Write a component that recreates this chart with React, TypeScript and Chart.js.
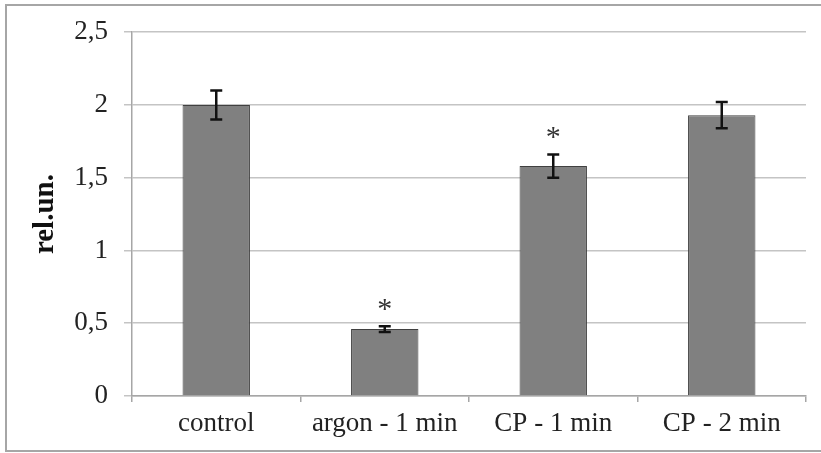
import React, { useEffect, useRef } from "react";
import { Chart, registerables } from "chart.js";

Chart.register(...registerables);

const categories = ["control", "argon - 1 min", "CP - 1 min", "CP - 2 min"];
const values = [2.0, 0.46, 1.58, 1.93];
const errors = [0.1, 0.02, 0.08, 0.09];
const significant = [false, true, true, false];
const yMin = 0;
const yMax = 2.5;
const yStep = 0.5;
const yTitle = "rel.un.";

const FONT = "'Liberation Serif', 'Times New Roman', serif";

const errorBarPlugin = {
  id: "errorBars",
  afterDatasetsDraw(chart: any) {
    const ctx = chart.ctx;
    const meta = chart.getDatasetMeta(0);
    const y = chart.scales.y;
    ctx.save();
    meta.data.forEach((bar: any, i: number) => {
      const x = bar.x;
      const top = y.getPixelForValue(values[i] + errors[i]);
      const bot = y.getPixelForValue(values[i] - errors[i]);
      ctx.strokeStyle = "#111";
      ctx.lineWidth = 2.5;
      ctx.beginPath();
      ctx.moveTo(x, top);
      ctx.lineTo(x, bot);
      ctx.moveTo(x - 6, top);
      ctx.lineTo(x + 6, top);
      ctx.moveTo(x - 6, bot);
      ctx.lineTo(x + 6, bot);
      ctx.stroke();
      if (significant[i]) {
        ctx.fillStyle = "#333";
        ctx.font = `30px ${FONT}`;
        ctx.textAlign = "center";
        ctx.textBaseline = "alphabetic";
        ctx.fillText("*", x, top - 8);
      }
    });
    ctx.restore();
  },
};

export default function App() {
  const ref = useRef<HTMLCanvasElement | null>(null);
  useEffect(() => {
    if (!ref.current) return;
    const chart = new Chart(ref.current, {
      type: "bar",
      data: {
        labels: categories,
        datasets: [
          {
            data: values,
            backgroundColor: "#808080",
            borderColor: "#404040",
            borderWidth: 1,
            categoryPercentage: 1,
            barPercentage: 0.4,
          },
        ],
      },
      options: {
        responsive: false,
        animation: false,
        layout: { padding: { left: 0, top: 31, right: 15, bottom: 0 } },
        plugins: { legend: { display: false }, tooltip: { enabled: false } },
        scales: {
          x: {
            offset: true,
            grid: {
              display: true,
              offset: true,
              drawOnChartArea: false,
              drawTicks: true,
              tickLength: 6,
              color: "#a6a6a6",
              lineWidth: 1.5,
            },
            border: { display: true, color: "#a6a6a6", width: 1.5 },
            ticks: {
              color: "#222",
              font: { family: FONT, size: 27 },
              padding: 6,
              maxRotation: 0,
            },
            afterFit: (s: any) => {
              s.height = 57;
            },
          },
          y: {
            min: yMin,
            max: yMax,
            grid: {
              color: "#c4c4c4",
              lineWidth: 1.5,
              drawTicks: true,
              tickLength: 8,
            },
            border: { display: true, color: "#a6a6a6", width: 1.5 },
            ticks: {
              stepSize: yStep,
              color: "#222",
              font: { family: FONT, size: 27 },
              padding: 16,
              callback: (v: any) => String(v).replace(".", ","),
            },
            title: {
              display: true,
              text: yTitle,
              color: "#111",
              font: { family: FONT, size: 29, weight: "bold" },
              padding: { top: 28, bottom: 0 },
            },
            afterFit: (s: any) => {
              s.width = 132;
            },
          },
        },
      },
      plugins: [errorBarPlugin],
    });
    return () => chart.destroy();
  }, []);

  return (
    <div style={{ position: "fixed", inset: 0, overflow: "hidden", background: "#fff" }}>
      <div
        style={{
          position: "absolute",
          left: 5,
          top: 4,
          width: 840,
          height: 448,
          border: "2px solid #a6a6a6",
          boxSizing: "border-box",
        }}
      />
      <canvas
        ref={ref}
        width={821}
        height={453}
        style={{ position: "absolute", left: 0, top: 0, width: 821, height: 453 }}
      />
    </div>
  );
}
